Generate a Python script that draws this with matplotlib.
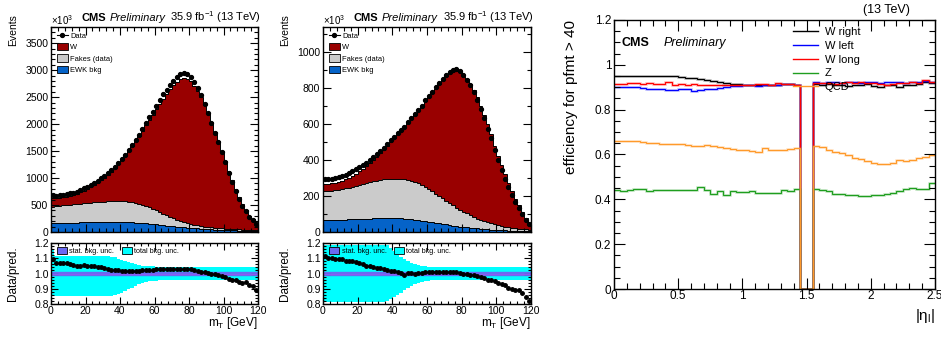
import numpy as np
import matplotlib.pyplot as plt
from matplotlib.patches import Patch
from matplotlib.lines import Line2D
from matplotlib.ticker import MultipleLocator, FormatStrFormatter, FuncFormatter

plt.rcParams['font.family'] = ['Liberation Sans', 'DejaVu Sans']
plt.rcParams['mathtext.fontset'] = 'custom'
plt.rcParams['mathtext.rm'] = 'Liberation Sans'
plt.rcParams['mathtext.it'] = 'Liberation Sans:italic'
plt.rcParams['mathtext.bf'] = 'Liberation Sans:bold'

# ---- mT distributions, 2 GeV bins from 0 to 120 (values in units of 10^3) ----
mt_edges = np.arange(0, 122, 2)

total1 = [622, 628, 636, 646, 658, 672, 690, 712, 738, 768,
          800, 835, 872, 912, 955, 1005, 1060, 1120, 1185, 1255,
          1330, 1410, 1495, 1585, 1680, 1775, 1875, 1975, 2075, 2175,
          2275, 2375, 2470, 2560, 2645, 2720, 2785, 2835, 2860, 2840,
          2790, 2710, 2620, 2500, 2350, 2200, 2030, 1850, 1680, 1500,
          1320, 1140, 960, 800, 650, 520, 410, 300, 235, 175]
ewk1 = [162, 163, 165, 167, 169, 171, 173, 175, 177, 179,
        181, 183, 185, 187, 188, 189, 190, 191, 191, 190,
        189, 187, 184, 180, 176, 172, 167, 161, 155, 148,
        141, 133, 125, 117, 110, 103, 96, 90, 84, 79,
        74, 69, 65, 61, 57, 53, 50, 46, 43, 40,
        37, 34, 32, 29, 27, 25, 23, 21, 19, 18]
fakes1 = [308, 315, 321, 326, 330, 334, 338, 342, 346, 350,
          354, 358, 362, 366, 371, 375, 378, 380, 382, 384,
          383, 380, 375, 368, 359, 348, 335, 321, 304, 282,
          259, 237, 215, 193, 170, 149, 130, 113, 98, 84,
          73, 64, 56, 49, 43, 39, 35, 33, 30, 28,
          26, 25, 23, 22, 20, 19, 18, 17, 16, 14]
ratio1 = [1.093, 1.067, 1.072, 1.071, 1.066, 1.062, 1.058, 1.052, 1.050, 1.053,
          1.052, 1.048, 1.046, 1.044, 1.040, 1.036, 1.032, 1.026, 1.020, 1.020,
          1.016, 1.015, 1.016, 1.015, 1.016, 1.018, 1.020, 1.022, 1.024, 1.026,
          1.028, 1.031, 1.032, 1.031, 1.030, 1.030, 1.030, 1.031, 1.032, 1.031,
          1.028, 1.024, 1.018, 1.013, 1.008, 1.002, 0.998, 0.994, 0.990, 0.984,
          0.976, 0.966, 0.958, 0.955, 0.946, 0.940, 0.945, 0.922, 0.920, 0.893]
band1_up = ([0.16] + [0.115] * 16 +
            [0.110, 0.105, 0.098, 0.090, 0.082, 0.075, 0.068, 0.062, 0.057,
             0.052, 0.049, 0.047, 0.046] + [0.045] * 30)
band1_dn = ([0.150] * 16 +
            [0.148, 0.145, 0.140, 0.133, 0.125, 0.115, 0.104, 0.093, 0.082,
             0.072, 0.064, 0.057, 0.052, 0.049, 0.047] + [0.045] * 29)

total2 = [265, 267, 270, 274, 279, 285, 293, 302, 313, 325,
          338, 352, 367, 383, 400, 418, 437, 457, 478, 500,
          522, 544, 566, 588, 610, 632, 655, 678, 702, 726,
          750, 774, 798, 822, 845, 866, 882, 893, 896, 889,
          873, 850, 822, 788, 748, 702, 652, 600, 546, 480,
          425, 372, 320, 275, 228, 185, 148, 112, 80, 52]
ewk2 = [66, 66, 67, 67, 68, 68, 69, 70, 70, 71,
        72, 73, 74, 75, 76, 76, 77, 77, 78, 78,
        77, 77, 76, 75, 73, 71, 69, 66, 63, 60,
        57, 54, 51, 48, 45, 42, 39, 36, 33, 30,
        28, 26, 24, 22, 20, 18, 16, 14, 13, 12,
        11, 10, 9, 8, 7, 6, 6, 5, 5, 4]
fakes2 = [160, 161, 162, 165, 167, 170, 173, 177, 182, 186,
          190, 194, 198, 202, 206, 210, 212, 215, 216, 218,
          220, 220, 220, 219, 218, 215, 210, 204, 197, 189,
          181, 172, 162, 152, 142, 132, 122, 112, 103, 94,
          85, 77, 69, 62, 55, 49, 44, 40, 35, 31,
          27, 24, 21, 19, 17, 15, 13, 12, 10, 9]
ratio2 = [1.116, 1.104, 1.100, 1.098, 1.098, 1.095, 1.085, 1.082, 1.080, 1.073,
          1.070, 1.062, 1.052, 1.049, 1.042, 1.038, 1.033, 1.028, 1.024, 1.018,
          1.014, 1.008, 1.005, 0.993, 1.002, 1.003, 1.000, 1.004, 1.002, 1.008,
          1.008, 1.007, 1.009, 1.010, 1.008, 1.011, 1.010, 1.008, 1.009, 1.006,
          1.000, 0.994, 0.992, 0.987, 0.983, 0.974, 0.970, 0.958, 0.955, 0.953,
          0.938, 0.934, 0.926, 0.905, 0.896, 0.893, 0.895, 0.870, 0.845, 0.822]
band2_up = ([0.19] * 18 +
            [0.185, 0.17, 0.15, 0.13, 0.11, 0.095, 0.08, 0.07, 0.062, 0.055,
             0.05, 0.047] + [0.045] * 30)
band2_dn = ([0.19] * 17 +
            [0.187, 0.18, 0.17, 0.155, 0.14, 0.125, 0.11, 0.095, 0.083, 0.072,
             0.063, 0.056, 0.051, 0.048] + [0.045] * 29)
stat_unc = 0.008

# ---- efficiency vs |eta|, 0.05 bins (ECAL gap bins empty) ----
eta_edges = np.linspace(0, 2.5, 51)
eff_wright = [0.948, 0.948, 0.950, 0.950, 0.952, 0.952, 0.952, 0.951, 0.950, 0.948,
              0.946, 0.943, 0.940, 0.936, 0.932, 0.927, 0.922, 0.918, 0.915, 0.913,
              0.912, 0.910, 0.908, 0.910, 0.912, 0.910, 0.915, 0.913, 0.910, 0.0,
              0.0, 0.915, 0.912, 0.915, 0.910, 0.912, 0.905, 0.910, 0.908, 0.915,
              0.905, 0.900, 0.910, 0.908, 0.900, 0.910, 0.912, 0.915, 0.925, 0.920]
eff_wleft = [0.902, 0.900, 0.900, 0.902, 0.895, 0.890, 0.890, 0.892, 0.886, 0.888,
             0.892, 0.890, 0.885, 0.888, 0.890, 0.892, 0.895, 0.900, 0.905, 0.905,
             0.908, 0.910, 0.905, 0.910, 0.912, 0.910, 0.916, 0.914, 0.910, 0.0,
             0.0, 0.922, 0.920, 0.925, 0.922, 0.920, 0.922, 0.925, 0.920, 0.922,
             0.925, 0.920, 0.922, 0.925, 0.922, 0.918, 0.922, 0.925, 0.930, 0.925]
eff_wlong = [0.915, 0.915, 0.920, 0.918, 0.915, 0.918, 0.915, 0.915, 0.922, 0.912,
             0.915, 0.912, 0.915, 0.912, 0.910, 0.912, 0.910, 0.910, 0.912, 0.910,
             0.910, 0.912, 0.915, 0.915, 0.912, 0.918, 0.915, 0.916, 0.912, 0.0,
             0.0, 0.918, 0.918, 0.920, 0.915, 0.920, 0.922, 0.918, 0.925, 0.918,
             0.920, 0.915, 0.912, 0.915, 0.918, 0.920, 0.922, 0.920, 0.932, 0.925]
eff_z = [0.442, 0.435, 0.440, 0.448, 0.448, 0.435, 0.440, 0.440, 0.442, 0.442,
         0.440, 0.440, 0.440, 0.455, 0.442, 0.425, 0.435, 0.420, 0.435, 0.432,
         0.432, 0.435, 0.430, 0.430, 0.428, 0.430, 0.440, 0.438, 0.445, 0.0,
         0.0, 0.445, 0.440, 0.435, 0.425, 0.425, 0.420, 0.418, 0.415, 0.415,
         0.418, 0.420, 0.425, 0.430, 0.435, 0.445, 0.450, 0.445, 0.448, 0.475]
eff_qcd = [0.662, 0.662, 0.660, 0.658, 0.655, 0.652, 0.650, 0.648, 0.648, 0.646,
           0.645, 0.643, 0.640, 0.638, 0.642, 0.636, 0.632, 0.628, 0.626, 0.622,
           0.620, 0.615, 0.612, 0.628, 0.618, 0.622, 0.622, 0.625, 0.628, 0.0,
           0.0, 0.640, 0.632, 0.622, 0.612, 0.605, 0.598, 0.585, 0.578, 0.570,
           0.560, 0.558, 0.558, 0.560, 0.575, 0.570, 0.575, 0.585, 0.590, 0.598]

W, H = 941, 338


def box(l, t, r, b):
    return [l / W, 1 - b / H, (r - l) / W, (b - t) / H]


def root_ticks(ax, major_len=6, minor_len=3, pad=2):
    ax.tick_params(which='both', direction='in', top=True, right=True, width=0.8)
    ax.tick_params(which='major', length=major_len, pad=pad)
    ax.tick_params(which='minor', length=minor_len)
    for s in ax.spines.values():
        s.set_linewidth(1.0)


fig = plt.figure(figsize=(W / 100, H / 100), dpi=100)


def mt_panel(left, right, total, ewk, fakes, ratio, b_up, b_dn, ymax, ymaj, ymin_, cms_x, prel_x, lumi_x):
    total = np.array(total, float)
    ewk = np.array(ewk, float)
    fakes = np.array(fakes, float)
    ratio = np.array(ratio, float)
    centers = 0.5 * (mt_edges[:-1] + mt_edges[1:])
    lvl1 = ewk
    lvl2 = ewk + fakes

    # main stacked panel
    ax = fig.add_axes(box(left, 27, right, 232))
    ax.stairs(lvl1, mt_edges, baseline=0, fill=True, color='#0563c8')
    ax.stairs(lvl2, mt_edges, baseline=lvl1, fill=True, color='#cbcbcb')
    ax.stairs(total, mt_edges, baseline=lvl2, fill=True, color='#990000')
    for lv in (lvl1, lvl2, total):
        ax.stairs(lv, mt_edges, baseline=None, color='black', lw=0.7)
    data = total * ratio
    ax.plot(centers, data, 'o', color='black', ms=2.8)
    ax.set_xlim(0, 120)
    ax.set_ylim(0, ymax)
    ax.xaxis.set_major_locator(MultipleLocator(20))
    ax.xaxis.set_minor_locator(MultipleLocator(4))
    ax.yaxis.set_major_locator(MultipleLocator(ymaj))
    ax.yaxis.set_minor_locator(MultipleLocator(ymin_))
    root_ticks(ax)
    ax.tick_params(labelbottom=False, labelsize=7.5)
    handles = [Line2D([], [], color='black', marker='o', ms=2.8, lw=0.8),
               Patch(facecolor='#990000', edgecolor='black', lw=0.6),
               Patch(facecolor='#cbcbcb', edgecolor='black', lw=0.6),
               Patch(facecolor='#0563c8', edgecolor='black', lw=0.6)]
    ax.legend(handles, ['Data', 'W', 'Fakes (data)', 'EWK bkg'], loc='upper left',
              bbox_to_anchor=(0.03, 0.975), frameon=False, fontsize=5.4,
              handlelength=1.4, handleheight=1.1, labelspacing=0.4,
              handletextpad=0.3, borderpad=0, borderaxespad=0)

    # ratio panel
    axr = fig.add_axes(box(left, 243, right, 304))
    axr.stairs(1 + np.array(b_up), mt_edges, baseline=1 - np.array(b_dn), fill=True, color='#00ffff')
    axr.axhspan(1 - stat_unc, 1 + stat_unc, color='#6a6af2')
    axr.axhline(1, color='#8c5cf0', lw=0.8)
    axr.plot(centers, ratio, 'o', color='black', ms=2.5)
    axr.set_xlim(0, 120)
    axr.set_ylim(0.8, 1.2)
    axr.xaxis.set_major_locator(MultipleLocator(20))
    axr.xaxis.set_minor_locator(MultipleLocator(4))
    axr.yaxis.set_major_locator(MultipleLocator(0.1))
    axr.yaxis.set_minor_locator(MultipleLocator(0.02))
    axr.yaxis.set_major_formatter(FormatStrFormatter('%.1f'))
    root_ticks(axr, major_len=5, minor_len=2.5, pad=1.5)
    axr.tick_params(labelsize=7.5)
    rh = [Patch(facecolor='#6a6af2', edgecolor='black', lw=0.6),
          Patch(facecolor='#00ffff', edgecolor='black', lw=0.6)]
    axr.legend(rh, ['stat. bkg. unc.', 'total bkg. unc.'], loc='upper left', ncol=2,
               bbox_to_anchor=(0.03, 0.93), frameon=False, fontsize=5.2,
               handlelength=1.4, handleheight=1.0, handletextpad=0.3,
               columnspacing=1.0, borderpad=0, borderaxespad=0)

    fig.text((left - 38) / W, 1 - 14 / H, 'Events', rotation=90, ha='center', va='top', fontsize=7.5)
    fig.text((left - 38) / W, 1 - 274 / H, 'Data/pred.', rotation=90, ha='center', va='center', fontsize=8.5)
    fig.text(right / W, 1 - 323 / H, r'm$_{\mathrm{T}}$ [GeV]', ha='right', va='center', fontsize=8.5)
    fig.text(left / W, 1 - 25 / H, r'$\times$10$^{3}$', ha='left', va='baseline', fontsize=7)
    fig.text(cms_x / W, 1 - 21 / H, 'CMS', ha='left', va='baseline', fontsize=8, fontweight='bold')
    fig.text(prel_x / W, 1 - 21 / H, 'Preliminary', ha='left', va='baseline', fontsize=8, style='italic')
    fig.text(lumi_x / W, 1 - 21 / H, r'35.9 fb$^{-1}$ (13 TeV)', ha='right', va='baseline', fontsize=8)


mt_panel(51, 258, total1, ewk1, fakes1, ratio1, band1_up, band1_dn, 3800, 500, 100, 82, 110, 261)
mt_panel(323, 531, total2, ewk2, fakes2, ratio2, band2_up, band2_dn, 1140, 200, 100, 354, 382, 534)

# ---- efficiency panel ----
ax3 = fig.add_axes(box(614, 20, 935, 289))
curves = [('W right', eff_wright, 'black'),
          ('W left', eff_wleft, '#0000ff'),
          ('W long', eff_wlong, '#ff0000'),
          ('Z', eff_z, '#1f9e1f'),
          ('QCD', eff_qcd, '#ff9a2a')]
for name, vals, col in curves:
    ax3.stairs(vals, eta_edges, baseline=None, color=col, lw=2.0, alpha=0.2)
    ax3.stairs(vals, eta_edges, baseline=None, color=col, lw=0.9, label=name)
ax3.set_xlim(0, 2.5)
ax3.set_ylim(0, 1.2)
ax3.xaxis.set_major_locator(MultipleLocator(0.5))
ax3.xaxis.set_minor_locator(MultipleLocator(0.1))
ax3.yaxis.set_major_locator(MultipleLocator(0.2))
ax3.yaxis.set_minor_locator(MultipleLocator(0.05))
gfmt = FuncFormatter(lambda v, p: '%g' % round(v, 3))
ax3.xaxis.set_major_formatter(gfmt)
ax3.yaxis.set_major_formatter(gfmt)
root_ticks(ax3, major_len=8, minor_len=4, pad=2)
ax3.tick_params(axis='x', pad=0.5)
ax3.tick_params(labelsize=8.5)
lh = [Line2D([], [], color=c, lw=1.0) for _, _, c in curves]
ax3.legend(lh, [n for n, _, _ in curves], loc='upper left', bbox_to_anchor=(0.558, 0.975),
           frameon=False, fontsize=8, handlelength=2.25, labelspacing=0.35,
           handletextpad=0.6, borderpad=0, borderaxespad=0)
fig.text(571 / W, 1 - 20 / H, 'efficiency for pfmt > 40', rotation=90, ha='center', va='top', fontsize=11)
fig.text(935 / W, 1 - 316 / H, r'|η$_{\mathrm{l}}$|', ha='right', va='center', fontsize=11)
fig.text(621 / W, 1 - 46 / H, 'CMS', ha='left', va='baseline', fontsize=9, fontweight='bold')
fig.text(664 / W, 1 - 46 / H, 'Preliminary', ha='left', va='baseline', fontsize=9, style='italic')
fig.text(910 / W, 1 - 13 / H, '(13 TeV)', ha='right', va='baseline', fontsize=9)

fig.savefig('out.png', dpi=100)
